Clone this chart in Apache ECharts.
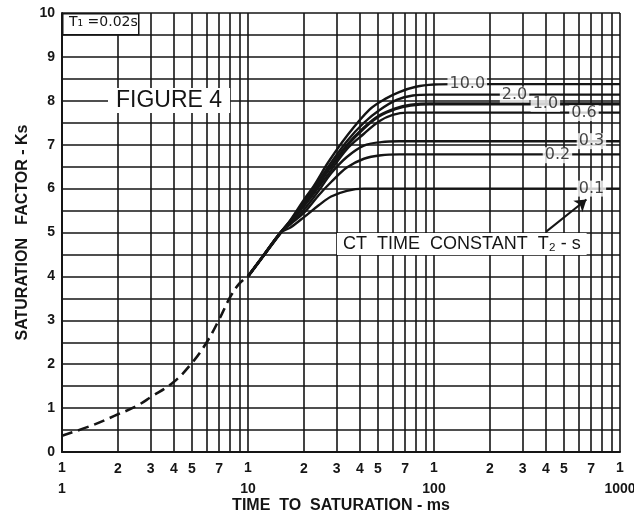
<!DOCTYPE html>
<html>
<head>
<meta charset="utf-8">
<script src="https://cdn.jsdelivr.net/npm/echarts@6/dist/echarts.min.js"></script>
<style>html,body{margin:0;padding:0;background:#fff}#c{width:634px;height:517px}</style>
</head>
<body>
<div id="c"></div>
<script>
// ---- data ----
const dashedX = [1, 1.5, 2, 2.5, 3, 4, 5, 6, 7, 8, 9, 10];
const dashedY = [0.37, 0.63, 0.86, 1.04, 1.25, 1.6, 2.03, 2.5, 3.02, 3.52, 3.84, 4.0];
const sharedX = [10, 12, 15];
const sharedY = [4.0, 4.45, 5.0];

const t2Names = ['10.0', '2.0', '1.0', '0.6', '0.3', '0.2', '0.1'];
const curveX = [
  [15, 17, 20, 22.5, 27, 34, 45, 55, 65, 80, 100, 130, 1000],
  [15, 17, 20, 23, 27, 34, 42, 51, 63, 77, 95, 1000],
  [15, 17, 20, 23, 27, 34, 42, 51, 62, 75, 95, 1000],
  [15, 17, 20, 23, 27, 34, 42, 51, 60, 72, 1000],
  [15, 17, 20, 24, 28, 34, 42, 52, 65, 1000],
  [15, 17, 20, 24, 28, 34, 42, 52, 65, 1000],
  [15, 17, 20, 24, 28, 34, 42, 1000]
];
const curveY = [
  [5.0, 5.3, 5.75, 6.05, 6.6, 7.2, 7.8, 8.05, 8.2, 8.32, 8.37, 8.38, 8.38],
  [5.0, 5.28, 5.7, 6.05, 6.5, 7.08, 7.5, 7.79, 8.02, 8.12, 8.14, 8.14],
  [5.0, 5.26, 5.65, 6.0, 6.42, 6.98, 7.38, 7.66, 7.82, 7.9, 7.93, 7.93],
  [5.0, 5.25, 5.6, 5.93, 6.33, 6.9, 7.25, 7.54, 7.68, 7.73, 7.73],
  [5.0, 5.22, 5.52, 5.95, 6.35, 6.72, 6.98, 7.06, 7.08, 7.08],
  [5.0, 5.2, 5.45, 5.85, 6.15, 6.48, 6.68, 6.76, 6.78, 6.78],
  [5.0, 5.12, 5.35, 5.62, 5.82, 5.95, 6.0, 6.0]
];
// label anchor positions on each curve (data coords)
const labelX = [151, 271, 397, 640, 702, 461, 702];
const labelY = [8.38, 8.14, 7.93, 7.72, 7.08, 6.76, 6.0];

const yTickLabels = ['0','1','2','3','4','5','6','7','8','9','10'];
const minorGridX = [2,3,4,5,6,7,8,9, 20,30,40,50,60,70,80,90, 200,300,400,500,600,700,800,900];
const minorGridLabels = ['2','3','4','5','','7','','', '2','3','4','5','','7','','', '2','3','4','5','','7','',''];
const arrowFrom = [401, 5.02];
const arrowTo = [660, 5.75];

// ---- chart ----
const chart = echarts.init(document.getElementById('c'), null, {renderer: 'canvas'});
const INK = '#151515';
const FONT = 'Liberation Sans';

const pair = (xs, ys) => xs.map((x, i) => [x, ys[i]]);

const series = [];
series.push({
  type: 'line', name: 'grid', data: [], silent: true, z: 1,
  markLine: {
    silent: true, symbol: 'none', animation: false,
    lineStyle: {color: INK, width: 1.6, type: 'solid'},
    label: {show: true, position: 'start', distance: 10, color: INK, fontFamily: FONT,
      fontWeight: 'bold', fontSize: 14, formatter: p => p.name},
    data: minorGridX.map((x, i) => [{coord: [x, 0], name: minorGridLabels[i]}, {coord: [x, 10]}])
  }
});
series.push({
  type: 'line', name: 'dashed', data: pair(dashedX, dashedY), smooth: 0.4, symbol: 'none', z: 3,
  lineStyle: {color: INK, width: 2.6, type: [11, 6]}
});
t2Names.forEach((n, k) => {
  series.push({
    type: 'line', name: n, data: pair(sharedX.slice(0, 2), sharedY.slice(0, 2)).concat(pair(curveX[k], curveY[k])),
    smooth: 0.35, symbol: 'none', z: 3,
    lineStyle: {color: INK, width: n === '1.0' ? 3.2 : 2.4}
  });
});
series.push({
  type: 'scatter', name: 'labels', z: 6, symbolSize: 0, silent: true,
  data: labelX.map((x, i) => ({value: [x, labelY[i]], name: t2Names[i]})),
  label: {show: true, position: 'inside', formatter: p => p.name, color: INK, fontFamily: 'DejaVu Sans',
    fontSize: 16, backgroundColor: '#fff', padding: [0, 2, 0, 2]}
});
series.push({
  type: 'line', name: 'arrow', data: [], z: 7, silent: true,
  markLine: {
    silent: true, animation: false, symbol: ['none', 'arrow'], symbolSize: 11,
    itemStyle: {color: INK},
    lineStyle: {color: INK, width: 2, type: 'solid'}, label: {show: false},
    data: [[{coord: arrowFrom}, {coord: arrowTo}]]
  }
});

chart.setOption({
  animation: false,
  backgroundColor: '#fff',
  grid: {left: 62, right: 14, top: 13, bottom: 65, containLabel: false, outerBoundsMode: 'none'},
  xAxis: {
    type: 'log', logBase: 10, min: 1, max: 1000,
    name: 'TIME  TO  SATURATION - ms', nameLocation: 'middle', nameGap: 46, nameMoveOverlap: false,
    nameTextStyle: {color: INK, fontFamily: FONT, fontWeight: 'bold', fontSize: 16},
    axisLine: {show: true, lineStyle: {color: INK, width: 2}},
    axisTick: {show: false},
    axisLabel: {color: INK, fontFamily: FONT, fontWeight: 'bold', fontSize: 14, margin: 6, lineHeight: 21,
      formatter: v => '1\n' + v},
    splitLine: {show: true, lineStyle: {color: INK, width: 1.6}}
  },
  yAxis: {
    type: 'value', min: 0, max: 10, interval: 0.5,
    name: 'SATURATION   FACTOR - Ks', nameLocation: 'middle', nameGap: 31, nameRotate: 90, nameMoveOverlap: false,
    nameTextStyle: {color: INK, fontFamily: FONT, fontWeight: 'bold', fontSize: 16},
    axisLine: {show: true, lineStyle: {color: INK, width: 2}},
    axisTick: {show: false},
    axisLabel: {color: INK, fontFamily: FONT, fontWeight: 'bold', fontSize: 14, margin: 7,
      formatter: v => (Math.abs(v - Math.round(v)) < 1e-9 ? yTickLabels[Math.round(v)] : '')},
    splitLine: {show: true, lineStyle: {color: INK, width: 1.6}}
  },
  series: series,
  graphic: [
    {type: 'rect', left: 62, top: 13, z: 20, shape: {width: 76, height: 21},
      style: {fill: '#fff', stroke: INK, lineWidth: 1.5}},
    {type: 'text', left: 69, top: 15, z: 21,
      style: {text: 'T₁ =0.02s', fill: INK, font: '14px "DejaVu Sans"'}},
    {type: 'text', left: 108, top: 88, z: 21,
      style: {text: 'FIGURE 4', fill: INK, font: '500 23px "Liberation Sans"', backgroundColor: '#fff', padding: [1, 8, 1, 8]}},
    {type: 'text', left: 337, top: 233, z: 21,
      style: {text: 'CT  TIME  CONSTANT  T₂ - s', fill: INK, font: '18px "Liberation Sans"', backgroundColor: '#fff', padding: [2, 6, 2, 6]}}
  ]
});
</script>
</body>
</html>
